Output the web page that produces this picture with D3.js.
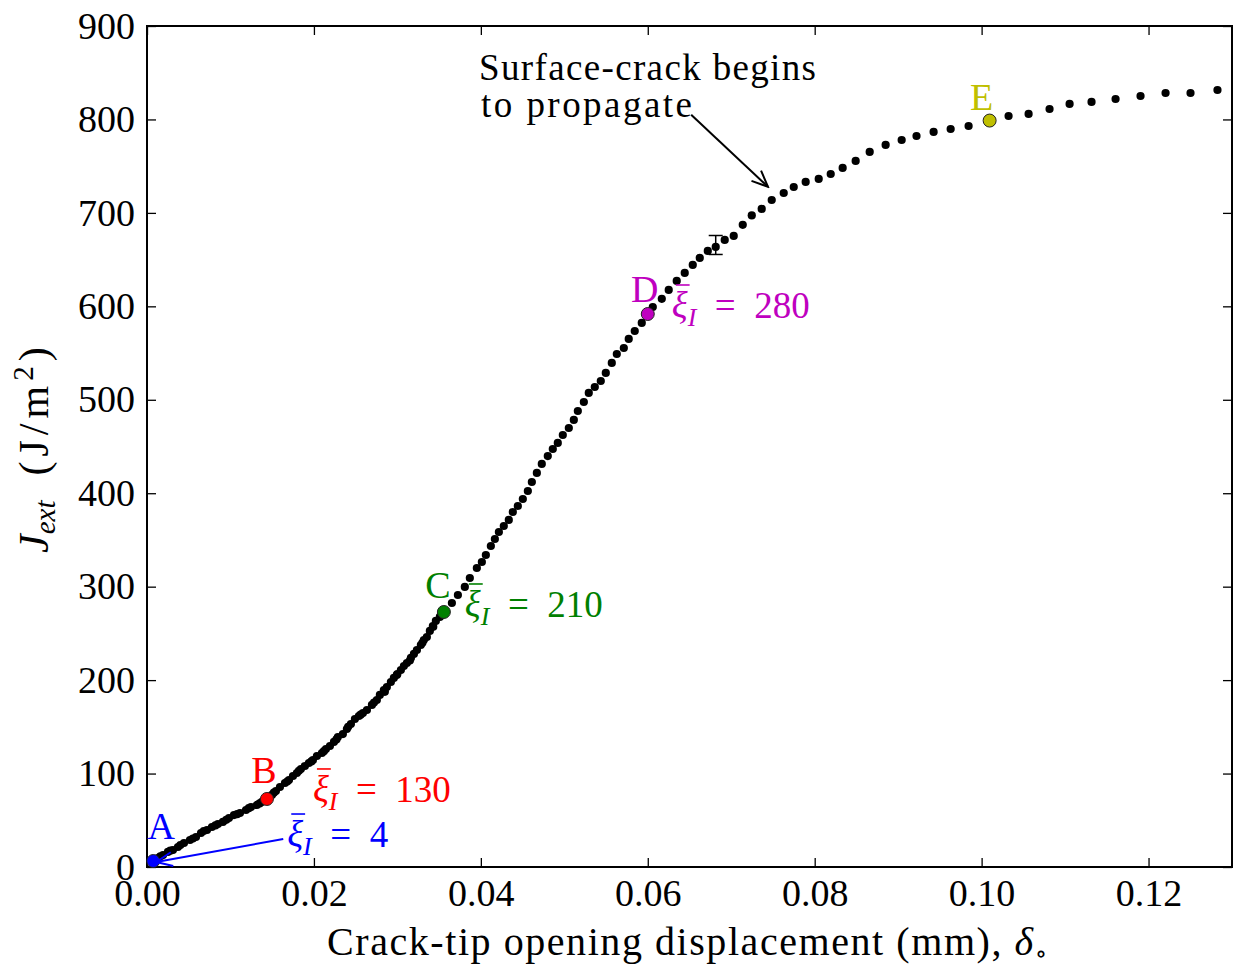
<!DOCTYPE html>
<html>
<head>
<meta charset="utf-8">
<script src="https://cdn.jsdelivr.net/npm/d3@7"></script>
<style>
  body { margin: 0; background: #fff; }
  text { font-family: 'Liberation Serif', 'DejaVu Serif', serif; }
</style>
</head>
<body>
<div id="chart"></div>
<script>
// crack-tip opening displacement (mm)
const ctod = [
  0.00072, 0.00132, 0.00192, 0.00251, 0.00311, 0.00371, 0.00443, 0.00515, 0.00587, 0.00647,
  0.00719, 0.00778, 0.0085, 0.0091, 0.00982, 0.01042, 0.01114, 0.01186, 0.01246, 0.01317,
  0.01377, 0.01437, 0.01497, 0.01545, 0.01593, 0.01653, 0.01701, 0.01749, 0.01796, 0.01844,
  0.01892, 0.0194, 0.01988, 0.02036, 0.02096, 0.02144, 0.02192, 0.0224, 0.02287, 0.02347,
  0.02395, 0.02443, 0.02491, 0.02539, 0.02587, 0.02635, 0.02695, 0.02754, 0.0279, 0.02838,
  0.02874, 0.02922, 0.02958, 0.02994, 0.03042, 0.03078, 0.03114, 0.03162, 0.03198, 0.03234,
  0.03281, 0.03317, 0.03353, 0.03389, 0.03425, 0.03461, 0.03509, 0.03557, 0.03653, 0.03725,
  0.03808, 0.03868, 0.03952, 0.04012, 0.0406, 0.0412, 0.04168, 0.04216, 0.04275, 0.04335,
  0.04383, 0.04443, 0.04503, 0.04563, 0.04611, 0.04671, 0.0473, 0.04802, 0.04862, 0.04922,
  0.04982, 0.05054, 0.05114, 0.05162, 0.05234, 0.05293, 0.05365, 0.05437, 0.05497, 0.05569,
  0.05629, 0.05713, 0.05772, 0.05844, 0.05928, 0.06, 0.0606, 0.06168, 0.06251, 0.06347,
  0.06443, 0.06539, 0.06623, 0.06719, 0.06814, 0.06922, 0.0703, 0.07138, 0.07246, 0.07365,
  0.07485, 0.07629, 0.07749, 0.07892, 0.08048, 0.08192, 0.08335, 0.08491, 0.08659, 0.0885,
  0.09042, 0.0922, 0.09425, 0.09629, 0.09844, 0.10096, 0.10323, 0.10563, 0.10814, 0.11054,
  0.11317, 0.11605, 0.11904, 0.12204, 0.12503, 0.12826
];
// J_ext (J/m^2)
const jext = [
  6.4, 9.6, 12.8, 16.1, 18.2, 21.4, 25.7, 28.9, 32.1, 36.4,
  39.6, 42.8, 46.0, 48.2, 52.4, 55.6, 57.8, 61.0, 64.2, 66.4,
  69.6, 72.8, 77.1, 81.3, 85.6, 89.9, 93.1, 97.4, 100.6, 104.9,
  108.1, 111.3, 114.5, 118.8, 122.0, 126.3, 129.5, 133.8, 139.1, 142.3,
  147.7, 153.0, 158.4, 161.6, 164.8, 168.0, 173.4, 178.7, 184.1, 189.4,
  192.6, 198.0, 202.3, 205.5, 210.8, 215.1, 218.3, 223.7, 228.0, 232.2,
  237.6, 242.9, 246.1, 252.6, 257.9, 263.3, 267.6, 272.9, 282.5, 291.1,
  299.7, 309.3, 320.0, 326.4, 333.9, 343.5, 351.0, 358.5, 364.9, 371.4,
  379.9, 386.3, 393.8, 402.4, 412.0, 421.7, 431.3, 439.8, 447.3, 453.8,
  462.3, 469.8, 478.4, 488.0, 497.6, 507.3, 513.7, 520.1, 528.7, 539.4,
  549.0, 555.4, 565.1, 573.6, 582.2, 591.8, 599.3, 608.0, 617.6, 627.2,
  635.7, 644.3, 651.8, 659.3, 663.6, 671.1, 675.4, 687.2, 697.3, 704.2,
  713.8, 721.3, 727.7, 733.1, 736.3, 741.6, 748.1, 755.6, 765.2, 772.7,
  778.0, 782.3, 786.6, 789.8, 793.0, 798.8, 803.7, 805.9, 811.2, 816.6,
  818.7, 821.9, 825.1, 828.3, 828.3, 831.5
];
// more readings inside the dense band (A to C)
const denseCtod = [
  0.0010, 0.0016, 0.0028, 0.0040, 0.0055, 0.0068, 0.0082, 0.0095, 0.0108, 0.0122,
  0.0135, 0.0152, 0.0168, 0.0182, 0.0197, 0.0212, 0.0227, 0.0241, 0.0256, 0.0272,
  0.0285, 0.0300, 0.0315, 0.0330, 0.0343, 0.0352
];
const denseJext = [
  8.5, 11.5, 17.5, 23.5, 30.5, 38.5, 44.5, 50.5, 56.5, 63.0,
  68.0, 79.5, 91.5, 103.0, 113.0, 124.0, 136.5, 150.0, 163.0, 176.0,
  187.5, 206.5, 221.0, 240.0, 257.0, 269.0
];

// marked states A..E
const markNames = ['A', 'B', 'C', 'D', 'E'];
const markCtod = [0.00075, 0.01437, 0.03557, 0.06, 0.10096];
const markJext = [6.4, 72.8, 272.9, 591.8, 798.8];
const markXi = [4, 130, 210, 280, null];

// single error bar
const errCtod = 0.06814;
const errLow = 655.5;
const errHigh = 675.8;

const xTicks = [0, 0.02, 0.04, 0.06, 0.08, 0.10, 0.12];
const yTicks = [0, 100, 200, 300, 400, 500, 600, 700, 800, 900];

const markColors = ['#0000ff', '#ff0000', '#008000', '#bf00bf', '#bfbf00'];

const margin = { top: 26, right: 6, bottom: 101, left: 147 };
const screenWidth = 1238;
const chartHeight = 968;
const width = screenWidth - margin.left - margin.right;
const height = chartHeight - margin.top - margin.bottom;

const root = d3
  .select('#chart')
  .append('svg')
  .attr('width', screenWidth)
  .attr('height', chartHeight);

const defs = root.append('defs');
['black', '#0000ff'].forEach((c, i) => {
  defs
    .append('marker')
    .attr('id', `head${i}`)
    .attr('viewBox', '0 0 20 20')
    .attr('refX', 18)
    .attr('refY', 10)
    .attr('markerWidth', 20)
    .attr('markerHeight', 20)
    .attr('markerUnits', 'userSpaceOnUse')
    .attr('orient', 'auto')
    .append('path')
    .attr('d', 'M2,3 L18,10 L2,17')
    .attr('fill', 'none')
    .attr('stroke', c)
    .attr('stroke-width', 2);
});

const svg = root
  .append('g')
  .attr('transform', `translate(${margin.left}, ${margin.top})`);

const x = d3.scaleLinear().domain([0, 0.13]).range([0, width]);
const y = d3.scaleLinear().domain([0, 900]).range([height, 0]);

// axes: ticks inside on all four sides
const tickLen = 9;
svg
  .append('g')
  .attr('transform', `translate(0,${height})`)
  .call(d3.axisBottom(x).tickValues(xTicks).tickSize(-tickLen).tickPadding(12).tickFormat(d3.format('.2f')))
  .call((g) => g.select('.domain').remove());
svg
  .append('g')
  .call(d3.axisTop(x).tickValues(xTicks).tickSize(-tickLen).tickFormat(''))
  .call((g) => g.select('.domain').remove());
svg
  .append('g')
  .call(d3.axisLeft(y).tickValues(yTicks).tickSize(-tickLen).tickPadding(12))
  .call((g) => g.select('.domain').remove());
svg
  .append('g')
  .attr('transform', `translate(${width},0)`)
  .call(d3.axisRight(y).tickValues(yTicks).tickSize(-tickLen).tickFormat(''))
  .call((g) => g.select('.domain').remove());

svg.selectAll('.tick line').attr('stroke', '#000').attr('stroke-width', 1.3);
svg
  .selectAll('.tick text')
  .attr('font-family', "'Liberation Serif', serif")
  .attr('font-size', 38)
  .attr('fill', '#000');

// frame
svg
  .append('rect')
  .attr('width', width)
  .attr('height', height)
  .attr('fill', 'none')
  .attr('stroke', '#000')
  .attr('stroke-width', 2);

// data dots
const allCtod = ctod.concat(denseCtod);
const allJext = jext.concat(denseJext);
svg
  .append('g')
  .selectAll('circle')
  .data(allCtod)
  .enter()
  .append('circle')
  .attr('cx', (d) => x(d))
  .attr('cy', (d, i) => y(allJext[i]))
  .attr('r', 4.1)
  .attr('fill', '#000');

// error bar
const eb = svg.append('g').attr('stroke', '#000').attr('stroke-width', 1.5);
eb.append('line').attr('x1', x(errCtod)).attr('x2', x(errCtod)).attr('y1', y(errLow)).attr('y2', y(errHigh));
[errLow, errHigh].forEach((v) => {
  eb.append('line')
    .attr('x1', x(errCtod) - 7)
    .attr('x2', x(errCtod) + 7)
    .attr('y1', y(v))
    .attr('y2', y(v));
});

// marked points
svg
  .append('g')
  .selectAll('circle')
  .data(markNames)
  .enter()
  .append('circle')
  .attr('cx', (d, i) => x(markCtod[i]))
  .attr('cy', (d, i) => y(markJext[i]))
  .attr('r', 6.5)
  .attr('fill', (d, i) => markColors[i])
  .attr('stroke', '#222')
  .attr('stroke-width', 1);

// letters above marked points
const letterOffsets = [[8, -22], [-3, -16], [-6, -14], [-3, -12], [-8, -11]];
svg
  .append('g')
  .selectAll('text')
  .data(markNames)
  .enter()
  .append('text')
  .attr('x', (d, i) => x(markCtod[i]) + letterOffsets[i][0])
  .attr('y', (d, i) => y(markJext[i]) + letterOffsets[i][1])
  .attr('text-anchor', 'middle')
  .attr('font-size', 38)
  .attr('fill', (d, i) => markColors[i])
  .text((d) => d);

// xi labels, overbar drawn as a line over the xi glyph
const xiOffsets = [[134, -14], [46, 3], [21, 5], [24, 4]];
markXi.forEach((v, i) => {
  if (v === null) return;
  const t = svg
    .append('text')
    .attr('x', x(markCtod[i]) + xiOffsets[i][0])
    .attr('y', y(markJext[i]) + xiOffsets[i][1])
    .attr('font-size', 37)
    .attr('fill', markColors[i]);
  t.append('tspan').attr('font-style', 'italic').text('\u03be');
  t.append('tspan').attr('font-style', 'italic').attr('font-size', 26).attr('dy', 8).text('I');
  t.append('tspan').attr('dy', -8).text(`\u2002=\u2002${v}`);
  const box = t.node().getExtentOfChar(0);
  const base = y(markJext[i]) + xiOffsets[i][1];
  svg
    .append('line')
    .attr('x1', box.x + 4)
    .attr('x2', box.x + box.width + 2)
    .attr('y1', base - 33)
    .attr('y2', base - 33)
    .attr('stroke', markColors[i])
    .attr('stroke-width', 1.6);
});

// blue arrow to A
svg
  .append('line')
  .attr('x1', x(markCtod[0]) + 130)
  .attr('y1', y(markJext[0]) - 22)
  .attr('x2', x(markCtod[0]) + 3)
  .attr('y2', y(markJext[0]) + 1)
  .attr('stroke', '#0000ff')
  .attr('stroke-width', 2)
  .attr('marker-end', 'url(#head1)');

// surface crack note
const note = svg.append('text').attr('font-size', 37).attr('fill', '#000');
note.append('tspan').attr('x', 332).attr('y', 54).attr('textLength', 337).attr('lengthAdjust', 'spacing').text('Surface-crack begins');
note.append('tspan').attr('x', 334).attr('y', 91).attr('textLength', 211).attr('lengthAdjust', 'spacing').text('to propagate');
svg
  .append('line')
  .attr('x1', x(0.0652))
  .attr('y1', y(805))
  .attr('x2', x(0.0744))
  .attr('y2', y(728))
  .attr('stroke', '#000')
  .attr('stroke-width', 2)
  .attr('marker-end', 'url(#head0)');

// axis titles
const xt = root
  .append('text')
  .attr('x', 327)
  .attr('y', 955)
  .attr('font-size', 40)
  .attr('textLength', 720)
  .attr('lengthAdjust', 'spacing');
xt.append('tspan').text('Crack-tip opening displacement (mm), ');
xt.append('tspan').attr('font-style', 'italic').text('\u03b4');
xt.append('tspan').attr('font-size', 25).attr('dy', 7).text('\u2218');

const yt = root
  .append('text')
  .attr('transform', 'translate(48,553) rotate(-90)')
  .attr('font-size', 42);
yt.append('tspan').attr('font-style', 'italic').text('J');
yt.append('tspan').attr('font-style', 'italic').attr('font-size', 29).attr('dy', 7).text('ext');
yt.append('tspan').attr('dy', -7).attr('dx', 25).attr('letter-spacing', 5).text('(J/m');
yt.append('tspan').attr('font-size', 29).attr('dy', -15).attr('letter-spacing', 5).text('2');
yt.append('tspan').attr('dy', 15).text(')');
</script>
</body>
</html>
